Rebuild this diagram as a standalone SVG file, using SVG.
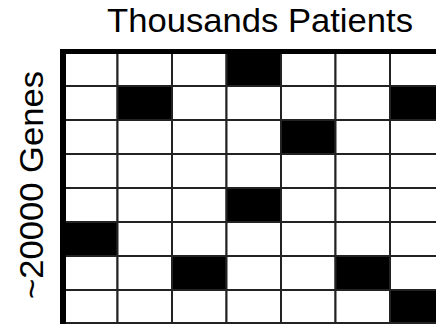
<svg xmlns="http://www.w3.org/2000/svg" width="436" height="324" viewBox="0 0 436 324">
<style>
.t{font-family:"Liberation Sans",sans-serif;fill:#000}
.cell{fill:#fff;stroke:#222;stroke-width:2}
.on{fill:#000;stroke:#222;stroke-width:2}
</style>
<rect width="436" height="324" fill="#fff"/>
<g id="title"><text class="t" x="260" y="32" font-size="33" text-anchor="middle" textLength="306" lengthAdjust="spacingAndGlyphs">Thousands Patients</text></g>
<g id="ylabel"><text class="t" transform="translate(43,185) rotate(-90)" font-size="34" text-anchor="middle" textLength="228" lengthAdjust="spacingAndGlyphs">~20000 Genes</text></g>
<g id="grid">
<g id="row0"><rect class="cell" x="63" y="52" width="54.5" height="34"/><rect class="cell" x="117.5" y="52" width="54.5" height="34"/><rect class="cell" x="172" y="52" width="54.5" height="34"/><rect class="on" x="226.5" y="52" width="54.5" height="34"/><rect class="cell" x="281" y="52" width="54.5" height="34"/><rect class="cell" x="335.5" y="52" width="54.5" height="34"/><rect class="cell" x="390" y="52" width="54.5" height="34"/></g>
<g id="row1"><rect class="cell" x="63" y="86" width="54.5" height="34"/><rect class="on" x="117.5" y="86" width="54.5" height="34"/><rect class="cell" x="172" y="86" width="54.5" height="34"/><rect class="cell" x="226.5" y="86" width="54.5" height="34"/><rect class="cell" x="281" y="86" width="54.5" height="34"/><rect class="cell" x="335.5" y="86" width="54.5" height="34"/><rect class="on" x="390" y="86" width="54.5" height="34"/></g>
<g id="row2"><rect class="cell" x="63" y="120" width="54.5" height="34"/><rect class="cell" x="117.5" y="120" width="54.5" height="34"/><rect class="cell" x="172" y="120" width="54.5" height="34"/><rect class="cell" x="226.5" y="120" width="54.5" height="34"/><rect class="on" x="281" y="120" width="54.5" height="34"/><rect class="cell" x="335.5" y="120" width="54.5" height="34"/><rect class="cell" x="390" y="120" width="54.5" height="34"/></g>
<g id="row3"><rect class="cell" x="63" y="154" width="54.5" height="34"/><rect class="cell" x="117.5" y="154" width="54.5" height="34"/><rect class="cell" x="172" y="154" width="54.5" height="34"/><rect class="cell" x="226.5" y="154" width="54.5" height="34"/><rect class="cell" x="281" y="154" width="54.5" height="34"/><rect class="cell" x="335.5" y="154" width="54.5" height="34"/><rect class="cell" x="390" y="154" width="54.5" height="34"/></g>
<g id="row4"><rect class="cell" x="63" y="188" width="54.5" height="34"/><rect class="cell" x="117.5" y="188" width="54.5" height="34"/><rect class="cell" x="172" y="188" width="54.5" height="34"/><rect class="on" x="226.5" y="188" width="54.5" height="34"/><rect class="cell" x="281" y="188" width="54.5" height="34"/><rect class="cell" x="335.5" y="188" width="54.5" height="34"/><rect class="cell" x="390" y="188" width="54.5" height="34"/></g>
<g id="row5"><rect class="on" x="63" y="222" width="54.5" height="34"/><rect class="cell" x="117.5" y="222" width="54.5" height="34"/><rect class="cell" x="172" y="222" width="54.5" height="34"/><rect class="cell" x="226.5" y="222" width="54.5" height="34"/><rect class="cell" x="281" y="222" width="54.5" height="34"/><rect class="cell" x="335.5" y="222" width="54.5" height="34"/><rect class="cell" x="390" y="222" width="54.5" height="34"/></g>
<g id="row6"><rect class="cell" x="63" y="256" width="54.5" height="34"/><rect class="cell" x="117.5" y="256" width="54.5" height="34"/><rect class="on" x="172" y="256" width="54.5" height="34"/><rect class="cell" x="226.5" y="256" width="54.5" height="34"/><rect class="cell" x="281" y="256" width="54.5" height="34"/><rect class="on" x="335.5" y="256" width="54.5" height="34"/><rect class="cell" x="390" y="256" width="54.5" height="34"/></g>
<g id="row7"><rect class="cell" x="63" y="290" width="54.5" height="33"/><rect class="cell" x="117.5" y="290" width="54.5" height="33"/><rect class="cell" x="172" y="290" width="54.5" height="33"/><rect class="cell" x="226.5" y="290" width="54.5" height="33"/><rect class="cell" x="281" y="290" width="54.5" height="33"/><rect class="cell" x="335.5" y="290" width="54.5" height="33"/><rect class="on" x="390" y="290" width="54.5" height="33"/></g>
<g id="border"><rect x="60" y="49" width="6" height="275" fill="#000"/><rect x="60" y="49" width="376" height="5" fill="#000"/></g>
</g>
</svg>
